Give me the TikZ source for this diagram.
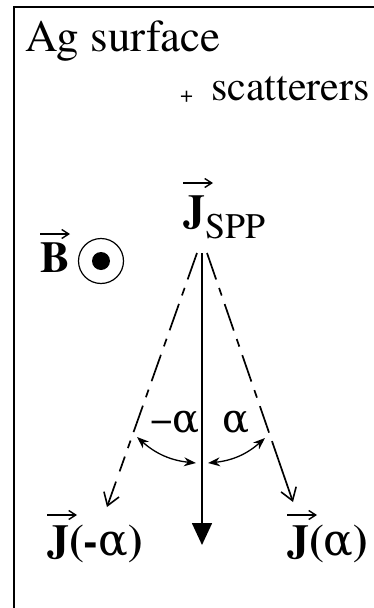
\documentclass[tikz,border=0pt]{standalone}
\usepackage{fontspec}
\setmainfont{texgyretermes}[Extension=.otf, UprightFont=*-regular, BoldFont=*-bold, ItalicFont=*-italic, BoldItalicFont=*-bolditalic]
\newfontfamily\grk{DejaVu Serif}
\usetikzlibrary{arrows.meta, calc}

\begin{document}
\begin{tikzpicture}[x=1pt, y=-1pt,
	lbl/.style={inner sep=0pt, anchor=base west},
	vlbl/.style={lbl, font=\fontsize{44}{48}\selectfont\bfseries},
	wire/.style={line width=1.7pt},
	dashwire/.style={wire, dash pattern=on 28pt off 9pt on 8pt off 9pt},
	barb/.style={wire, -{Straight Barb[length=12pt,width=16pt,line width=1.6pt]}},
	vecarrow/.style={line width=1.4pt, -{Straight Barb[length=7pt,width=9pt]}},
	anglearc/.style={line width=1.3pt, {Stealth[length=12pt,width=9pt]}-{Stealth[length=12pt,width=9pt]}}]
	\useasboundingbox (0,0) rectangle (374,608);
	% Frame (cut on the right and at the bottom):
	\draw[line width=1.5pt] (14,608) -- (14,7) -- (374,7);
	% Labels:
	\node[lbl, font=\fontsize{45}{48}\selectfont] (surf) at (25,51) {Ag surface};
	\node[lbl, font=\fontsize{23}{25}\selectfont] (plus) at (180,102) {+};
	\node[lbl, font=\fontsize{42}{44}\selectfont] (scat) at (211,100) {scatterers};
	\node[vlbl] (jspp) at (183,225) {J\raisebox{-13pt}{\fontsize{36}{40}\mdseries\selectfont SPP}};
	\node[vlbl] (bvec) at (40,272) {B};
	\node[circle, draw, line width=1.2pt, minimum size=45pt, inner sep=0pt] (bdot) at (101,261) {};
	\fill (bdot.center) circle (9pt);
	\node[lbl, font=\fontsize{40}{44}\selectfont] (negalpha) at (150,432) {−{\grk α}};
	\node[lbl, font=\fontsize{40}{44}\selectfont] (posalpha) at (222,432) {\grk α};
	\node[vlbl] (jneg) at (47,555) {J(-{\mdseries\grk α})};
	\node[vlbl] (jpos) at (287,555) {J({\mdseries\grk α})};
	% Vector arrows over the letters:
	\draw[vecarrow] ([shift={(0,-42)}]jspp.base west) -- ++(30,0);
	\draw[vecarrow] ([shift={(0,-38)}]bvec.base west) -- ++(30,0);
	\draw[vecarrow] ([shift={(0,-40)}]jneg.base west) -- ++(30,0);
	\draw[vecarrow] ([shift={(0,-40)}]jpos.base west) -- ++(30,0);
	% Points of the current arrows:
	\coordinate (apexL) at (197,253);
	\coordinate (apex) at (202,253);
	\coordinate (apexR) at (207,253);
	\coordinate (tipL) at (107,507);
	\coordinate (tip) at (202,545);
	\coordinate (tipR) at (293,502);
	\coordinate (arcLa) at (137,437);
	\coordinate (arcLb) at (196,463);
	\coordinate (arcRa) at (208,463);
	\coordinate (arcRb) at (265,438);
	% Arrows:
	\draw[wire, -{Triangle[length=22pt,width=20pt]}] (apex) -- (tip);
	\draw[dashwire] (apexL) -- ($(apexL)!0.86!(tipL)$);
	\draw[barb] ($(apexL)!0.9!(tipL)$) -- (tipL);
	\draw[dashwire] (apexR) -- ($(apexR)!0.76!(tipR)$);
	\draw[barb] ($(apexR)!0.76!(tipR)$) -- (tipR);
	\draw[anglearc] (arcLa) to[bend right=18] (arcLb);
	\draw[anglearc] (arcRa) to[bend right=18] (arcRb);
\end{tikzpicture}
\end{document}
